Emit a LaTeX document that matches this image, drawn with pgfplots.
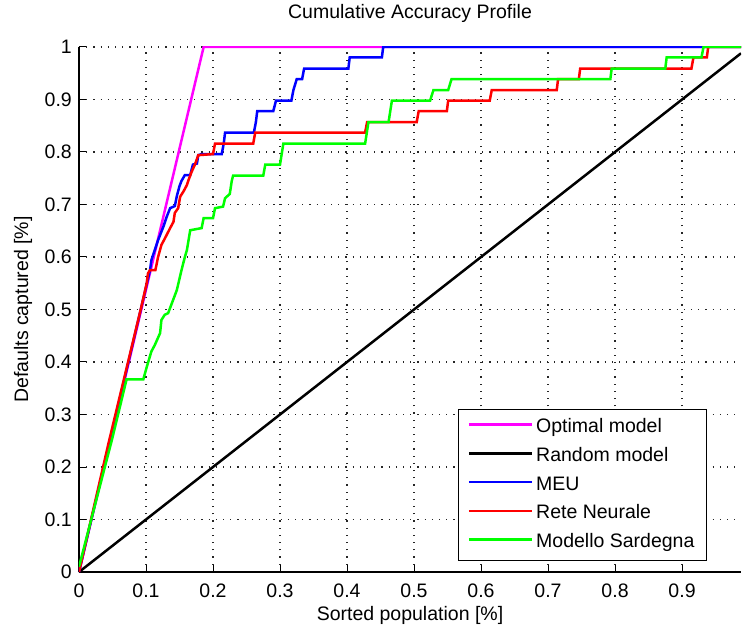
\documentclass[border=0pt]{standalone}
\usepackage{fontspec}
\setmainfont{Liberation Sans}
\usepackage{pgfplots}
\pgfplotsset{compat=1.18}
\newcommand{\matfont}{\fontsize{19.5}{23}\selectfont}
\definecolor{mmag}{rgb}{1,0,1}
\definecolor{mblue}{rgb}{0,0,1}
\definecolor{mred}{rgb}{1,0,0}
\definecolor{mgreen}{rgb}{0,1,0}

\begin{document}
\matfont
\begin{tikzpicture}
\path[use as bounding box] (-79pt,-54pt) rectangle (664pt,572pt);
\begin{axis}[
    at={(0pt,0pt)}, anchor=south west,
    scale only axis, width=662pt, height=525pt,
    xmin=0, xmax=0.988, ymin=0, ymax=1,
    axis x line*=bottom, axis y line*=left,
    axis line style={-, line width=1.2pt, black},
    xtick={0,0.1,0.2,0.3,0.4,0.5,0.6,0.7,0.8,0.9},
    ytick={0,0.1,0.2,0.3,0.4,0.5,0.6,0.7,0.8,0.9,1},
    tick align=inside, major tick length=7pt,
    tick style={black, line width=1pt},
    /pgf/number format/assume math mode=true,
    xticklabel style={font=\matfont, anchor=base, inner sep=0pt, yshift=-25pt},
    yticklabel style={font=\matfont, anchor=east, inner sep=0pt, xshift=-7pt},
    grid=major,
    major grid style={black!85, line width=1.2pt, dash pattern=on 1.2pt off 6pt},
    title={Cumulative Accuracy Profile},
    title style={font=\matfont, at={(0.5,1.0438)}, anchor=base, inner sep=0pt},
    xlabel={Sorted population [\%]},
    xlabel style={font=\matfont, at={(0.5,-0.0933)}, anchor=base, inner sep=0pt},
    ylabel={Defaults captured [\%]},
    ylabel style={font=\matfont, at={(-0.077,0.5)}, anchor=base, inner sep=0pt},
    legend cell align=left,
    legend image code/.code={\draw[#1] (0pt,3pt) -- (63pt,3pt);},
    legend style={at={(0.9486,0.021)}, anchor=south east, draw=black,
        line width=1pt, fill=white, font=\matfont, inner xsep=9pt, inner ysep=6pt,
        row sep=4.7pt, nodes={inner sep=3pt, text height=14pt, text depth=4pt}},
    every axis plot/.append style={line width=2.5pt},
]
% Optimal model
\addplot[mmag] coordinates {(0,0) (0.186,1) (0.988,1)};
\addlegendentry{Optimal model}
% Random model
\addplot[black] coordinates {(0,0) (0.988,0.988)};
\addlegendentry{Random model}
% MEU
\addplot[mblue] coordinates {
(0,0) (0.106,0.575) (0.108,0.594) (0.113,0.613) (0.118,0.632) (0.126,0.658)
(0.131,0.677) (0.136,0.693) (0.143,0.697) (0.146,0.716) (0.150,0.735) (0.153,0.745)
(0.158,0.756) (0.166,0.756) (0.170,0.776) (0.176,0.778) (0.178,0.794) (0.183,0.796)
(0.213,0.796) (0.216,0.816) (0.218,0.837) (0.261,0.837) (0.264,0.857) (0.266,0.878)
(0.290,0.878) (0.294,0.898) (0.317,0.898) (0.320,0.918) (0.325,0.939) (0.333,0.939)
(0.336,0.959) (0.402,0.959) (0.404,0.980) (0.452,0.980) (0.454,1) (0.988,1)};
\addlegendentry{MEU}
% Rete Neurale
\addplot[mred] coordinates {
(0,0) (0.044,0.245) (0.093,0.505) (0.101,0.550) (0.103,0.569) (0.106,0.575)
(0.114,0.575) (0.118,0.600) (0.123,0.623) (0.128,0.635) (0.136,0.655) (0.141,0.667)
(0.143,0.684) (0.148,0.693) (0.151,0.715) (0.156,0.725) (0.161,0.737) (0.163,0.745)
(0.168,0.762) (0.173,0.776) (0.178,0.794) (0.200,0.796) (0.203,0.816) (0.260,0.816)
(0.263,0.837) (0.427,0.837) (0.430,0.857) (0.504,0.857) (0.507,0.878) (0.549,0.878)
(0.551,0.898) (0.613,0.898) (0.616,0.918) (0.713,0.918) (0.715,0.939) (0.746,0.939)
(0.748,0.959) (0.914,0.959) (0.917,0.980) (0.937,0.980) (0.939,1) (0.988,1)};
\addlegendentry{Rete Neurale}
% Modello Sardegna
\addplot[mgreen] coordinates {
(0,0.010) (0.040,0.207) (0.049,0.251) (0.071,0.367) (0.096,0.367) (0.101,0.390)
(0.108,0.420) (0.113,0.432) (0.121,0.455) (0.123,0.480) (0.128,0.490) (0.133,0.493)
(0.141,0.520) (0.146,0.537) (0.153,0.575) (0.158,0.600) (0.161,0.613) (0.166,0.651)
(0.183,0.655) (0.186,0.674) (0.200,0.674) (0.203,0.693) (0.215,0.696) (0.218,0.712)
(0.225,0.720) (0.228,0.745) (0.230,0.755) (0.275,0.755) (0.278,0.776) (0.300,0.776)
(0.305,0.816) (0.427,0.816) (0.432,0.857) (0.462,0.857) (0.467,0.898) (0.524,0.898)
(0.529,0.918) (0.551,0.918) (0.556,0.939) (0.793,0.939) (0.795,0.959) (0.875,0.959)
(0.877,0.980) (0.929,0.980) (0.932,1) (0.988,1)};
\addlegendentry{Modello Sardegna}
\end{axis}
\end{tikzpicture}
\end{document}
